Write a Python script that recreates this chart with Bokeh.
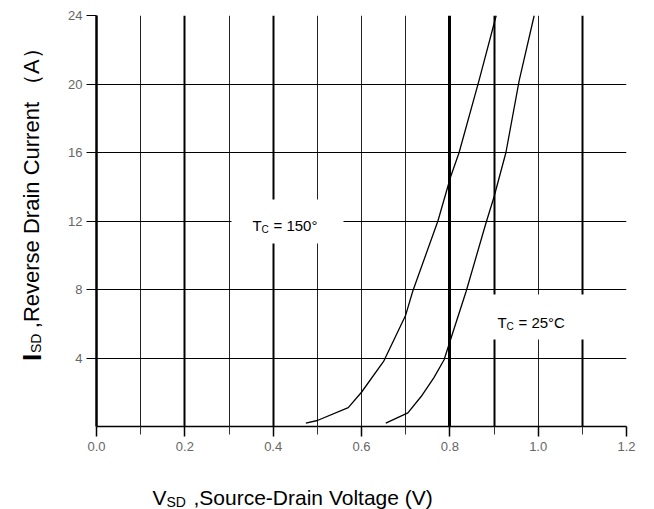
import math
from bokeh.plotting import figure
from bokeh.layouts import row, column
from bokeh.models import (Range1d, Grid, FixedTicker, PrintfTickFormatter,
                          Label, BoxAnnotation)
from bokeh.core.properties import value
from bokeh.embed import file_html
from bokeh.resources import INLINE

# Reverse diode characteristic: source-drain voltage (V) vs. reverse drain current (A)
v_150 = [0.474, 0.500, 0.570, 0.600, 0.650, 0.700, 0.716, 0.773, 0.802, 0.821, 0.866, 0.905]
i_150 = [0.2, 0.35, 1.1, 2.0, 3.8, 6.5, 7.9, 12.0, 14.6, 16.0, 20.2, 24.0]

v_25 = [0.655, 0.705, 0.735, 0.764, 0.787, 0.807, 0.837, 0.882, 0.900, 0.927, 0.957, 0.991]
i_25 = [0.2, 0.8, 1.75, 2.85, 3.9, 5.5, 7.9, 11.9, 13.4, 16.0, 20.2, 24.0]

x_major = [0.0, 0.2, 0.4, 0.6, 0.8, 1.0, 1.2]
x_minor = [0.1, 0.3, 0.5, 0.7, 0.9, 1.1]
y_major = [4, 8, 12, 16, 20, 24]

# grid line groups (position lists) with differing stroke weights
grid_thin_x = [0.1, 0.3, 0.5, 0.6, 0.7, 1.0]
grid_mid_x = [0.2, 0.4, 0.9, 1.1]
grid_bold_x = [0.8]

FONT = "Liberation Sans"

# page layout (pixels): y-title strip on the left, x-title strip at the bottom
W, H = 654, 509
YT_W = 60          # width of the strip holding the rotated y title
XT_H = 45          # height of the strip holding the x title
L, R, T, B = 96, 28, 15, 83   # frame margins on the whole page
FW, FH = W - L - R, H - T - B

p = figure(width=W - YT_W, height=H - XT_H,
           x_range=Range1d(0, 1.2), y_range=Range1d(0, 24),
           output_backend="svg", toolbar_location=None,
           min_border_left=L - YT_W, min_border_right=R,
           min_border_top=T, min_border_bottom=B - XT_H)
p.outline_line_color = None
p.background_fill_color = "white"
p.border_fill_color = "white"
p.xgrid.visible = False
p.ygrid.visible = False


def px_x(px):
    return (px - L) / FW * 1.2


def px_y(py):
    return (H - B - py) / FH * 24


# grid
p.add_layout(Grid(dimension=0, ticker=FixedTicker(ticks=grid_thin_x),
                  grid_line_color="#222222", grid_line_width=1))
p.add_layout(Grid(dimension=0, ticker=FixedTicker(ticks=grid_mid_x),
                  grid_line_color="black", grid_line_width=2))
p.add_layout(Grid(dimension=0, ticker=FixedTicker(ticks=grid_bold_x),
                  grid_line_color="black", grid_line_width=3))
p.add_layout(Grid(dimension=0, ticker=FixedTicker(ticks=[1.2]),
                  grid_line_color="#8a8a8a", grid_line_width=2))
p.add_layout(Grid(dimension=1, ticker=FixedTicker(ticks=y_major),
                  grid_line_color="black", grid_line_width=1))

# axes
xa = p.xaxis[0]
xa.ticker = FixedTicker(ticks=x_major, minor_ticks=x_minor)
xa.formatter = PrintfTickFormatter(format="%.1f")
xa.axis_line_width = 1.5
xa.axis_line_color = "black"
xa.major_tick_in = 0
xa.major_tick_out = 10
xa.major_tick_line_width = 1.5
xa.minor_tick_in = 0
xa.minor_tick_out = 8
xa.minor_tick_line_color = "#333333"
xa.major_label_standoff = 5
xa.major_label_text_font = FONT
xa.major_label_text_font_size = "13px"
xa.major_label_text_color = "#666666"

ya = p.yaxis[0]
ya.ticker = FixedTicker(ticks=y_major, minor_ticks=[])
ya.axis_line_width = 2.5
ya.axis_line_color = "black"
ya.major_tick_in = 0
ya.major_tick_out = 10
ya.major_tick_line_width = 1
ya.minor_tick_line_color = None
ya.major_label_standoff = 4
ya.major_label_text_font = FONT
ya.major_label_text_font_size = "13px"
ya.major_label_text_color = "#666666"

# characteristic curves
p.line(v_150, i_150, line_color="black", line_width=1.3)
p.line(v_25, i_25, line_color="black", line_width=1.3)

# white backing boxes behind the curve captions
p.add_layout(BoxAnnotation(left=px_x(231), right=px_x(343), top=px_y(199), bottom=px_y(243),
                           fill_color="white", fill_alpha=1.0, line_color=None))
p.add_layout(BoxAnnotation(left=px_x(488), right=px_x(602), top=px_y(294), bottom=px_y(339),
                           fill_color="white", fill_alpha=1.0, line_color=None))


def caption(text, x, y, size):
    p.add_layout(Label(x=px_x(x), y=px_y(y), text=text,
                       text_font=FONT, text_font_size=f"{size}px",
                       text_color="black", text_align="left",
                       text_baseline="alphabetic"))


# curve captions
caption("T", 252, 225, 15)
caption("C", 261, 229, 10)
caption("= 150°", 273, 225, 15)

caption("T", 497, 322, 15)
caption("C", 506, 326, 10)
caption("= 25°C", 518, 322, 15)


def text_strip(width, height, x0, y0):
    """Blank figure whose data units are page pixels (y pointing down)."""
    f = figure(width=width, height=height,
               x_range=Range1d(x0, x0 + width), y_range=Range1d(y0 + height, y0),
               output_backend="svg", toolbar_location=None,
               x_axis_location=None, y_axis_location=None, min_border=0)
    f.outline_line_color = None
    f.xgrid.visible = False
    f.ygrid.visible = False
    f.background_fill_color = "white"
    f.border_fill_color = "white"
    return f


def put(f, text, x, y, size, angle=0.0, bold=False):
    f.text(x=[x], y=[y], text=[text], angle=angle,
           text_font=value(FONT), text_font_size=f"{size}px",
           text_font_style="bold" if bold else "normal",
           text_color="black", text_align="left", text_baseline="alphabetic")


# y-axis title (rotated, reading upward)
ytitle = text_strip(YT_W, H - XT_H, 0, 0)
up = math.pi / 2
put(ytitle, "I", 31, 390, 26, angle=up, bold=True)
put(ytitle, "SD", 35, 381, 14, angle=up)
put(ytitle, ",Reverse Drain Current （A）", 31, 353, 22, angle=up)

# x-axis title
xtitle = text_strip(W, XT_H, 0, H - XT_H)
put(xtitle, "V", 152, 497, 21)
put(xtitle, "SD", 166, 501, 14)
put(xtitle, ",Source-Drain Voltage (V)", 193, 497, 21)

layout = column(row(ytitle, p, spacing=0), xtitle, spacing=0)

open("out.html", "w").write(file_html(layout, INLINE))
